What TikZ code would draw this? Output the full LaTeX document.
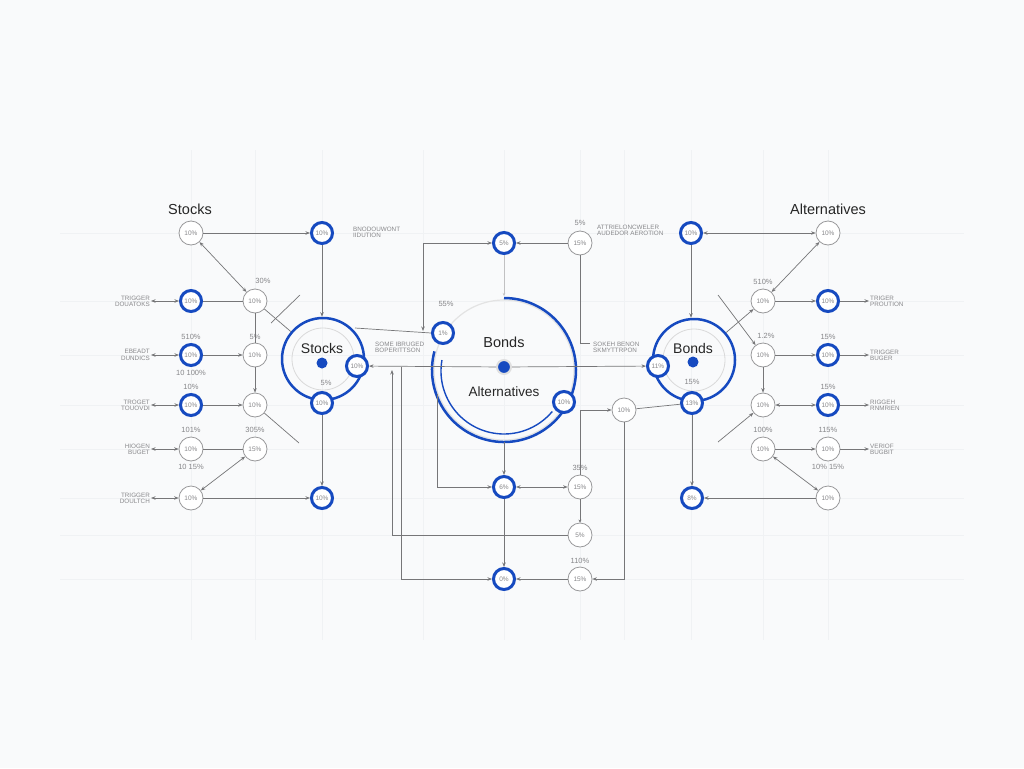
\documentclass[tikz,border=0pt]{standalone}
\usepackage{fontspec}
\setmainfont{Liberation Sans}
\usetikzlibrary{arrows.meta,calc}
\definecolor{bl}{RGB}{22,74,192}
\definecolor{lnc}{RGB}{118,118,120}
\definecolor{txc}{RGB}{135,135,138}
\definecolor{bgc}{RGB}{249,250,251}
\definecolor{grc}{RGB}{240,242,244}
\newcommand\myfs[1]{\fontsize{#1}{#1}\selectfont}
\begin{document}
\begin{tikzpicture}[x=1pt,y=-1pt,
 gn/.style={circle,draw=lnc!75,line width=0.8pt,fill=white,minimum size=24pt,inner sep=0pt,font=\myfs{6.5},text=txc},
 bn/.style={circle,draw=bl,line width=3pt,fill=white,minimum size=21pt,inner sep=0pt,font=\myfs{6.5},text=txc},
 lbe/.style={font=\myfs{6.3},text=txc,align=right,anchor=east,inner sep=1pt},
 lbw/.style={font=\myfs{6.3},text=txc,align=left,anchor=west,inner sep=1pt},
 pc/.style={font=\myfs{7.5},text=txc,inner sep=0pt},
 ttl/.style={font=\myfs{14.5},text=black!85,inner sep=0pt},
 pl/.style={draw=lnc,line width=0.7pt},
 ar/.style={pl,-{Stealth[length=4.5pt,width=3.5pt]}},
 da/.style={pl,{Stealth[length=4.5pt,width=3.5pt]}-{Stealth[length=4.5pt,width=3.5pt]}},
 bigc/.style={circle,draw=bl,line width=2.5pt,inner sep=0pt},
 dot/.style={circle,fill=bl,inner sep=0pt}
]
\fill[bgc] (0,0) rectangle (1024,768);
\useasboundingbox (0,0) rectangle (1024,768);
% faint grid
\foreach \gx in {191,255,322,423,504,580,624,691,763,828}
  \draw[grc,line width=0.4pt] (\gx,150) -- (\gx,640);
\foreach \gy in {233,301,355,405,449,498,535,579}
  \draw[grc,line width=0.4pt] (60,\gy) -- (964,\gy);

% ================= LEFT =================
\node[ttl] (tS) at (190,209) {Stocks};
\node[gn] (la1) at (191,233) {10\%};
\node[bn] (lb1) at (322,233) {10\%};
\node[lbw] (lt1) at (352,232) {BNODOUWONT\\IIDUTION};
\node[bn] (lr2a) at (191,301) {10\%};
\node[gn] (lr2b) at (255,301) {10\%};
\node[bn] (lr3a) at (191,355) {10\%};
\node[gn] (lr3b) at (255,355) {10\%};
\node[bn] (lr4a) at (191,405) {10\%};
\node[gn] (lr4b) at (255,405) {10\%};
\node[gn] (lr5a) at (191,449) {10\%};
\node[gn] (lr5b) at (255,449) {15\%};
\node[gn] (lr6a) at (191,498) {10\%};
\node[bn] (lb6) at (322,498) {10\%};

\node[lbe] (lt2) at (151,301) {TRIGGER\\DOUATOKS};
\node[lbe] (lt3) at (151,355) {EBEADT\\DUNDICS};
\node[lbe] (lt4) at (151,405) {TROGET\\TOUOVDI};
\node[lbe] (lt5) at (151,449) {HIOGEN\\BUGET};
\node[lbe] (lt6) at (151,498) {TRIGGER\\DOULTCH};

\node[pc] (lp1) at (263,281) {30\%};
\node[pc] (lp2) at (191,337) {510\%};
\node[pc] (lp3) at (255,337) {5\%};
\node[pc] (lp4) at (191,373) {10 100\%};
\node[pc] (lp5) at (191,387) {10\%};
\node[pc] (lp6) at (191,430) {101\%};
\node[pc] (lp7) at (255,430) {305\%};
\node[pc] (lp8) at (191,467) {10 15\%};

% Stocks circle
\node[bigc,minimum size=82pt] (SC) at (323,359) {};
\draw[gray!30,line width=0.8pt] (323,359) circle (31);
\node[dot,minimum size=11pt] (sdot) at (322,363) {};
\node[ttl,font=\myfs{14}] (sT) at (322,348) {Stocks};
\node[pc] (sp) at (326,383) {5\%};
\node[bn] (sr) at (357,366) {10\%};
\node[bn] (sb) at (322,403) {10\%};

% left connectors
\draw[ar] (la1) -- (lb1);
\draw[da] (la1) -- (lr2b);
\draw[ar] (lb1) -- (lb1 |- SC.north);
\draw[da] (lt2.east) -- (lr2a);
\draw[da] (lt3.east) -- (lr3a);
\draw[da] (lt4.east) -- (lr4a);
\draw[da] (lt5.east) -- (lr5a);
\draw[da] (lt6.east) -- (lr6a);
\draw[pl] (lr2a) -- (lr2b);
\draw[pl] (lr2b) -- (lr3b);
\draw[ar] (lr3a) -- (lr3b);
\draw[ar] (lr3b) -- (lr4b);
\draw[ar] (lr4a) -- (lr4b);
\draw[pl] (lr5a) -- (lr5b);
\draw[da] (lr6a) -- (lr5b);
\draw[ar] (lr6a) -- (lb6);
\draw[ar] (sb) -- (lb6);
\draw[pl] (lr2b) -- (SC);
\coordinate (lx1) at (300,295);
\coordinate (lx2) at (271,323);
\draw[pl] (lx1) -- (lx2);
\coordinate (lx3) at (299,443);
\draw[pl] (lr4b) -- (lx3);

% ================= MIDDLE =================
% big circle
\draw[gray!22,line width=1.2pt] (504,370) circle (70);
\draw[bl,line width=2.5pt] ($(504,370)+(195:72)$) arc[start angle=195,end angle=-90,radius=72];
\draw[bl,line width=1.4pt] ($(504,371)+(-170:63)$) arc[start angle=-170,end angle=-320,radius=63];
\node[circle,draw=gray!25,line width=2pt,fill=bl,minimum size=14pt,inner sep=0pt] (mc) at (504,367) {};
\node[ttl] (mT1) at (504,342) {Bonds};
\node[ttl,font=\myfs{13.5}] (mT2) at (504,392) {Alternatives};

\node[bn] (m5) at (504,243) {5\%};
\node[gn] (m15a) at (580,243) {15\%};
\node[pc] (mp1) at (580,223) {5\%};
\node[lbw] (mt1) at (596,230) {ATTRIELONCWELER\\AUDEDOR AEROTION};
\node[bn] (m1) at (443,333) {1\%};
\node[pc] (mp2) at (446,304) {55\%};
\node[lbw] (mt2) at (374,347) {SOME IBRUGED\\BOPERITTSON};
\node[lbw] (mt3) at (592,347) {SOKEH BENON\\SKMYTTRPON};
\node[bn] (m10) at (564,402) {10\%};
\node[gn] (m10g) at (624,410) {10\%};
\node[bn] (m6) at (504,487) {6\%};
\node[gn] (m15b) at (580,487) {15\%};
\node[pc] (mp3) at (580,468) {35\%};
\node[gn] (m5b) at (580,535) {5\%};
\node[bn] (m0) at (504,579) {0\%};
\node[gn] (m15c) at (580,579) {15\%};
\node[pc] (mp4) at (580,561) {110\%};

% right bonds circle (needed for connectors)
\node[bigc,minimum size=82pt] (BC) at (694,360) {};
\draw[gray!30,line width=0.8pt] (694,360) circle (31);
\node[dot,minimum size=11pt] (bdot) at (693,362) {};
\node[ttl,font=\myfs{14}] (bT) at (693,348) {Bonds};
\node[pc] (bp) at (692,382) {15\%};
\node[bn] (b11) at (658,366) {11\%};
\node[bn] (b13) at (692,403) {13\%};

% middle connectors
\draw[ar] (m15a) -- (m5);
\coordinate (mk1) at (423,331);
\draw[da] (m5) -| (mk1);
\coordinate (mk2) at (355,328);
\draw[pl] (mk2) -- (m1.west);
\coordinate (mk3) at (590,343);
\draw[pl] (m15a) |- (mk3);
\coordinate (mk4) at (504,296);
\draw[pl,draw=lnc!45,line width=0.5pt,-{Stealth[length=3pt,width=2.5pt]}] (m5) -- (mk4);
\draw[ar] (mc) -- (sr);
\draw[ar] (mc) -- (b11);
\coordinate (mk5) at (392,370);
\draw[ar] (m5b) -| (mk5);
\coordinate (mk6) at (401,367);
\draw[ar] (mk6) |- (m0);
\coordinate (mk7) at (437,394);
\draw[ar] (mk7) |- (m6);
\coordinate (mk8) at (504,442);
\draw[ar] (mk8) -- (m6);
\draw[ar] (m6) -- (m0);
\draw[da] (m6) -- (m15b);
\draw[pl,-{Stealth[length=3pt,width=3pt]}] (m15b) -- (m5b);
\draw[ar] (m15b) |- (m10g);
\draw[pl] (m10g) -- (b13);
\draw[ar] (m10g) |- (m15c);
\draw[ar] (m15c) -- (m0);

% ================= RIGHT =================
\node[ttl] (tA) at (828,209) {Alternatives};
\node[bn] (ra1) at (691,233) {10\%};
\node[gn] (rb1) at (828,233) {10\%};
\node[gn] (rr2a) at (763,301) {10\%};
\node[bn] (rr2b) at (828,301) {10\%};
\node[gn] (rr3a) at (763,355) {10\%};
\node[bn] (rr3b) at (828,355) {10\%};
\node[gn] (rr4a) at (763,405) {10\%};
\node[bn] (rr4b) at (828,405) {10\%};
\node[gn] (rr5a) at (763,449) {10\%};
\node[gn] (rr5b) at (828,449) {10\%};
\node[gn] (rr6) at (828,498) {10\%};
\node[bn] (rb6) at (692,498) {8\%};

\node[lbw] (rt2) at (869,301) {TRIGER\\PROUTION};
\node[lbw] (rt3) at (869,355) {TRIGGER\\BUGER};
\node[lbw] (rt4) at (869,405) {RIGGEH\\RNMRIEN};
\node[lbw] (rt5) at (869,449) {VERIOF\\BUGBIT};

\node[pc] (rp1) at (763,282) {510\%};
\node[pc] (rp2) at (766,336) {1.2\%};
\node[pc] (rp3) at (828,337) {15\%};
\node[pc] (rp4) at (828,387) {15\%};
\node[pc] (rp5) at (763,430) {100\%};
\node[pc] (rp6) at (828,430) {115\%};
\node[pc] (rp7) at (828,467) {10\% 15\%};

\draw[da] (ra1) -- (rb1);
\draw[ar] (ra1) -- (ra1 |- BC.north);
\draw[da] (rb1) -- (rr2a);
\draw[ar] (rr2a) -- (rr2b);
\draw[ar] (rr2b) -- (rt2.west);
\draw[ar] (BC) -- (rr2a);
\coordinate (rx1) at (718,295);
\draw[ar] (rx1) -- (rr3a);
\draw[ar] (rr3a) -- (rr3b);
\draw[ar] (rr3b) -- (rt3.west);
\draw[ar] (rr3a) -- (rr4a);
\draw[da] (rr4a) -- (rr4b);
\draw[ar] (rr4b) -- (rt4.west);
\coordinate (rx2) at (718,442);
\draw[ar] (rx2) -- (rr4a);
\draw[ar] (rr5a) -- (rr5b);
\draw[ar] (rr5b) -- (rt5.west);
\draw[da] (rr5a) -- (rr6);
\draw[ar] (rr6) -- (rb6);
\draw[ar] (b13) -- (rb6);
\end{tikzpicture}
\end{document}
